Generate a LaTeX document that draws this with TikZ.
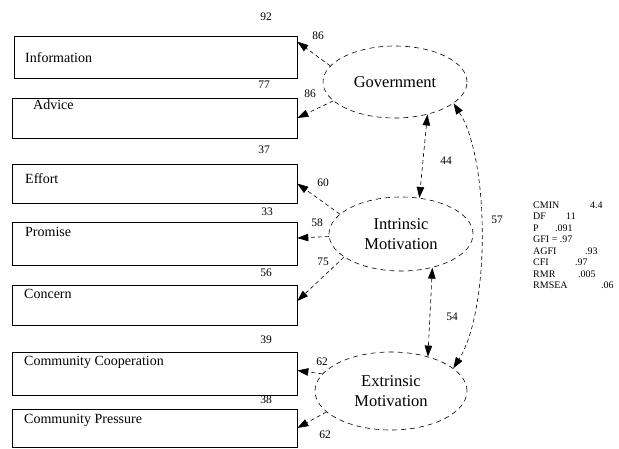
\documentclass[tikz,border=0pt]{standalone}
\usepackage{fontspec}
\setmainfont{Liberation Serif}
\usetikzlibrary{shapes.geometric,arrows.meta,calc}
\begin{document}
\begin{tikzpicture}[x=1pt,y=-1pt,
  obsbox/.style={draw, line width=0.6pt, rectangle, minimum width=285pt, minimum height=40pt, inner sep=0pt},
  latent/.style={draw, ellipse, dashed, dash pattern=on 5pt off 4pt, line width=0.6pt, inner sep=0pt, align=center, font=\fontsize{16.5}{20}\selectfont},
  boxlabel/.style={anchor=west, font=\fontsize{14}{15}\selectfont, inner sep=0pt},
  num/.style={font=\fontsize{11.5}{12}\selectfont, inner sep=0pt},
  fitline/.style={anchor=west, font=\fontsize{10}{10}\selectfont, inner sep=0pt},
  path/.style={dashed, dash pattern=on 4pt off 3pt, line width=0.6pt, -{Triangle[length=11pt,width=7.5pt]}},
  cov/.style={dashed, dash pattern=on 4pt off 3pt, line width=0.6pt, {Triangle[length=11pt,width=7.5pt]}-{Triangle[length=11pt,width=7.5pt]}}
]
\useasboundingbox (0,0) rectangle (619,448);

% observed boxes
\node[obsbox, minimum width=283pt, minimum height=42pt] (info) at (155.5,57) {};
\node[obsbox] (adv) at (154.5,118) {};
\node[obsbox, minimum height=39pt] (eff) at (154.5,183.5) {};
\node[obsbox, minimum height=43pt] (prom) at (154.5,244) {};
\node[obsbox] (conc) at (154.5,305) {};
\node[obsbox, minimum height=43pt] (coop) at (154.5,373.5) {};
\node[obsbox, minimum height=38pt] (pres) at (154.5,428) {};

\node[boxlabel] (linfo) at (25,58) {Information};
\node[boxlabel] (ladv) at (33,105) {Advice};
\node[boxlabel] (leff) at (25,179) {Effort};
\node[boxlabel] (lprom) at (25,232) {Promise};
\node[boxlabel] (lconc) at (24,294) {Concern};
\node[boxlabel] (lcoop) at (24,362) {Community Cooperation};
\node[boxlabel] (lpres) at (24,420) {Community Pressure};

% R-squared values
\node[num] (r1) at (266,17) {92};
\node[num] (r2) at (264,85) {77};
\node[num] (r3) at (264,150) {37};
\node[num] (r4) at (267,212) {33};
\node[num] (r5) at (266,273) {56};
\node[num] (r6) at (266,340) {39};
\node[num] (r7) at (266,400) {38};

% latent variables
\node[latent, minimum width=144pt, minimum height=72pt] (gov) at (395,82) {Government};
\node[latent, minimum width=144pt, minimum height=74pt] (intr) at (401,234) {Intrinsic\\Motivation};
\node[latent, minimum width=152pt, minimum height=78pt] (extr) at (391,391) {Extrinsic\\Motivation};

% loadings
\draw[path] (gov.166) -- ($(info.north east)+(0,6)$);
\draw[path] (gov.197) -- (adv.east);
\draw[path] (intr.162) -- (eff.east);
\draw[path] (intr.182) -- ($(prom.east)+(0,-6)$);
\draw[path] (intr.202) -- ($(conc.east)+(0,-4)$);
\draw[path] (extr.166) -- ($(coop.east)+(0,-3)$);
\draw[path] (extr.198) -- (pres.east);

\node[num] (l1) at (318,36) {86};
\node[num] (l2) at (310,94) {86};
\node[num] (l3) at (323,183) {60};
\node[num] (l4) at (317,223) {58};
\node[num] (l5) at (323,262) {75};
\node[num] (l6) at (322,362) {62};
\node[num] (l7) at (325,435) {62};

% covariances
\draw[cov] (gov.-45) -- (intr.63);
\draw[cov] (intr.-47) -- (extr.43);
\draw[cov] (gov.-20) .. controls (490,160) and (490,310) .. (extr.20);

\node[num] (c1) at (446,161) {44};
\node[num] (c2) at (452,317) {54};
\node[num] (c3) at (497,220) {57};

% fit statistics
\node[fitline] (f1) at (533,205) {\makebox[57pt][l]{CMIN}4.4};
\node[fitline] (f2) at (533,216.5) {\makebox[33pt][l]{DF}11};
\node[fitline] (f3) at (533,228) {\makebox[22pt][l]{P}.091};
\node[fitline] (f4) at (533,239.5) {GFI = .97};
\node[fitline] (f5) at (533,251) {\makebox[52pt][l]{AGFI}.93};
\node[fitline] (f6) at (533,262.5) {\makebox[42pt][l]{CFI}.97};
\node[fitline] (f7) at (533,274) {\makebox[45pt][l]{RMR}.005};
\node[fitline] (f8) at (533,285.5) {\makebox[68pt][l]{RMSEA}.06};
\end{tikzpicture}
\end{document}
